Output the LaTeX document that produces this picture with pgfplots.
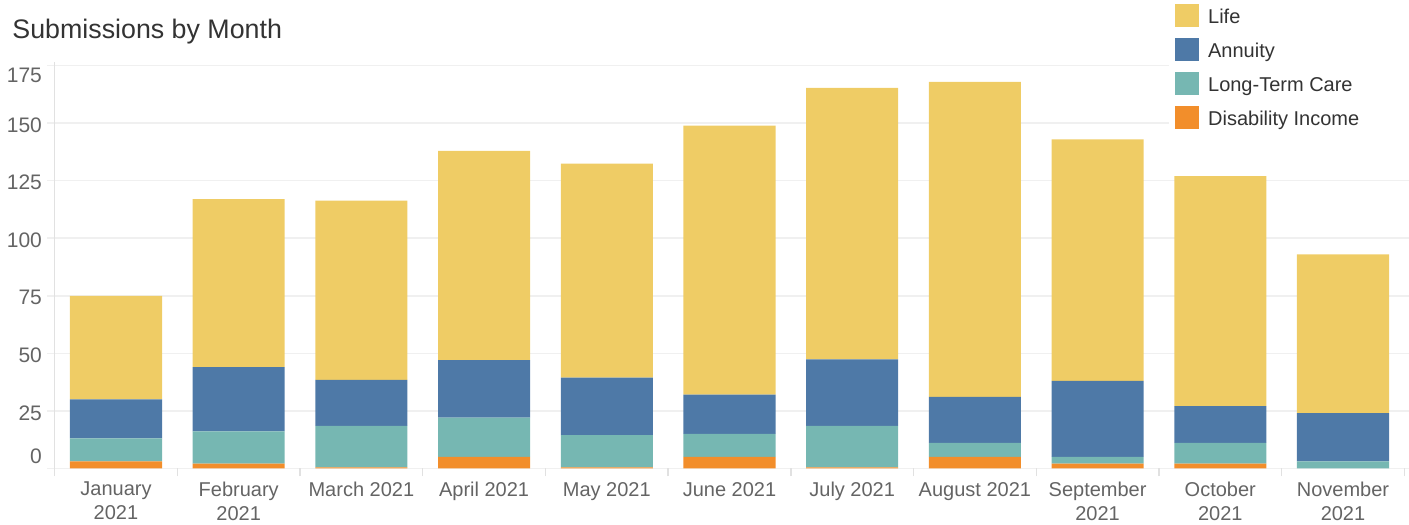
\documentclass[border=0pt]{standalone}
\usepackage{fontspec}
\setmainfont{Liberation Sans}
\usepackage{pgfplots}
\pgfplotsset{compat=1.18}
\usepackage{pgfplotstable}

\definecolor{life}{RGB}{239,204,101}
\definecolor{annuity}{RGB}{78,121,167}
\definecolor{ltc}{RGB}{118,183,178}
\definecolor{di}{RGB}{242,142,43}
\definecolor{gridgray}{RGB}{240,240,240}
\definecolor{tickgray}{RGB}{225,225,225}
\definecolor{labelgray}{RGB}{100,100,100}
\definecolor{titlegray}{RGB}{51,51,51}

\pgfplotstableread{
x di ltc ann life
0 3 10 17 45
1 2 14 28 73
2 0.4 18 20 78
3 5 17 25 91
4 0.4 14 25 93
5 5 10 17 117
6 0.4 18 29 118
7 5 6 20 137
8 2 3 33 105
9 2 9 16 100
10 0 3 21 69
}\datatable

\begin{document}
\begin{tikzpicture}
\useasboundingbox (0,0) rectangle (704.5pt,262.5pt);
\begin{axis}[
  at={(23.5pt,28.35pt)}, anchor=south west,
  scale only axis, width=681pt, height=201.3pt,
  xmin=-0.5623, xmax=10.538, ymin=0, ymax=175,
  ybar stacked, bar width=0.75,
  axis line style={draw=none},
  tick pos=left,
  major tick length=0pt,
  ymajorgrids, grid style={draw=gridgray, line width=0.75pt},
  ytick={0,25,50,75,100,125,150,175},
  yticklabels={\raisebox{7pt}[\height][\depth]{0},25,50,75,100,125,150,\raisebox{-4pt}[\height][\depth]{175}},
  yticklabel style={anchor=east, inner sep=0pt, xshift=-2.35pt, yshift=-1pt, font=\fontsize{10.5}{12}\selectfont, text=labelgray},
  xtick={0,1,2,3,4,5,6,7,8,9,10},
  xticklabels={{January\\2021},{February\\2021},{March 2021},{April 2021},{May 2021},{June 2021},{July 2021},{August 2021},{September\\2021},{October\\2021},{November\\2021}},
  xticklabel style={align=center, anchor=north, inner sep=0pt, yshift=-6.7pt, font=\fontsize{10}{12}\selectfont, text=labelgray},
  extra x ticks={-0.5,0.5,1.5,2.5,3.5,4.5,5.5,6.5,7.5,8.5,9.5,10.5},
  extra x tick labels={},
  extra x tick style={major tick length=4pt, tick align=outside, tick pos=left, tick style={draw=tickgray, line width=0.7pt}},
  clip=false,
  reverse legend,
  legend cell align=left,
  legend image code/.code={\fill[#1] (0pt,-4.5pt) rectangle (12pt,7.2pt);},
  legend style={at={(0.8238,1.1632)}, anchor=north west, draw=none, fill=white,
    inner xsep=3pt, inner ysep=1.65pt, row sep=5.3pt,
    nodes={inner sep=0pt, text=titlegray},
    font=\fontsize{10}{12}\selectfont,
    /tikz/every odd column/.append style={column sep=4.35pt}},
]
\addplot[fill=di, draw=none] table[x=x,y=di]{\datatable};
\addlegendentry{Disability Income}
\addplot[fill=ltc, draw=none] table[x=x,y=ltc]{\datatable};
\addlegendentry{Long-Term Care}
\addplot[fill=annuity, draw=none] table[x=x,y=ann]{\datatable};
\addlegendentry{Annuity}
\addplot[fill=life, draw=none] table[x=x,y=life]{\datatable};
\addlegendentry{Life}
\fill[white] (rel axis cs:0.8238,1.17) rectangle (rel axis cs:1.001,0.827);
\draw[tickgray, line width=0.7pt] (axis cs:-0.5,176.5) -- (axis cs:-0.5,0);
\end{axis}
\node[anchor=base west, inner sep=0pt, font=\fontsize{13.4}{16}\selectfont, text=titlegray] at (6pt,243.35pt) {Submissions by Month};
\end{tikzpicture}
\end{document}
